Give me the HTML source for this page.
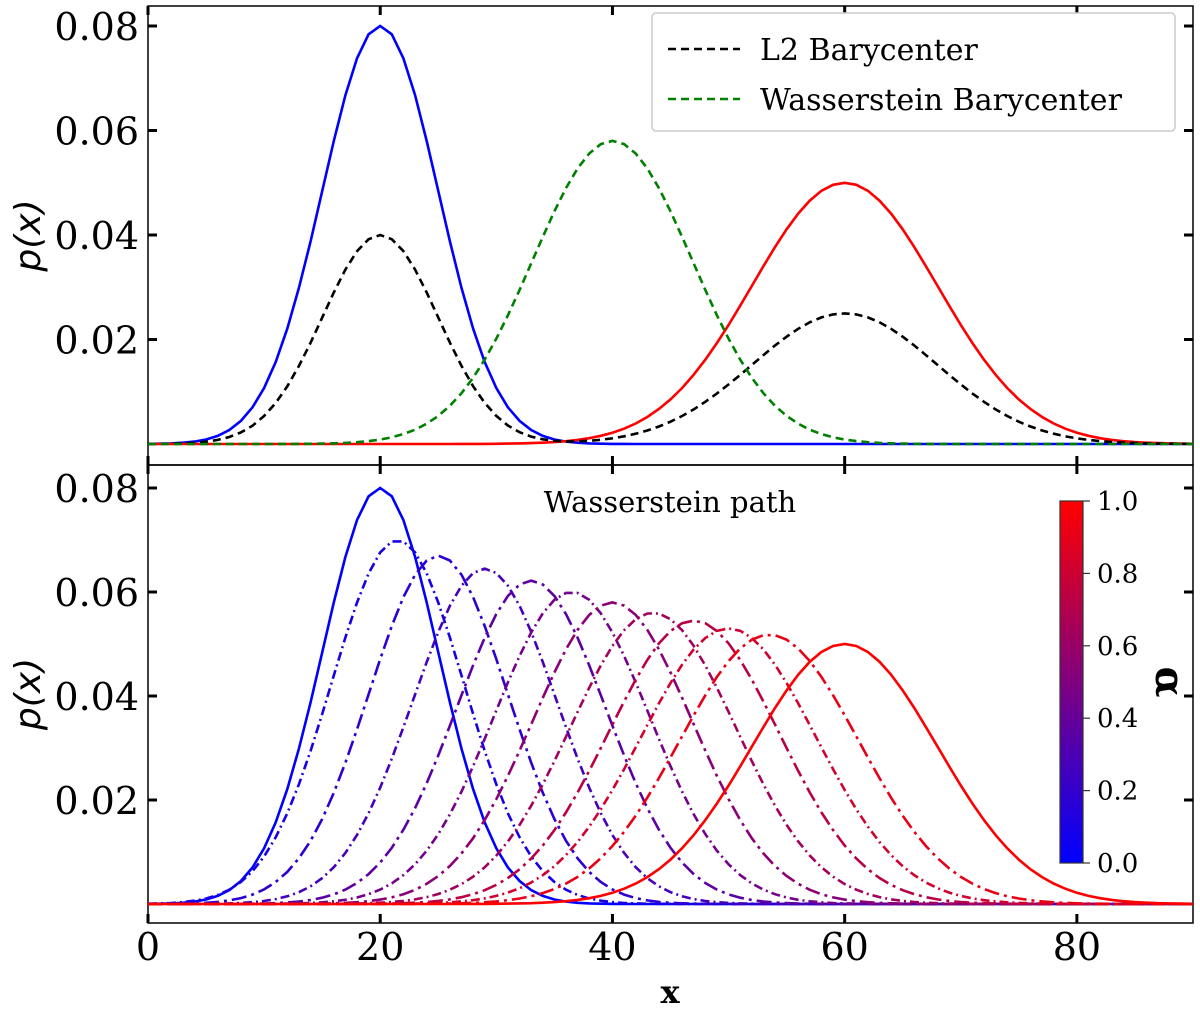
<!DOCTYPE html>
<html><head><meta charset="utf-8"><style>
body{margin:0;background:#fff}
svg text{font-family:"DejaVu Serif","Liberation Serif",serif;fill:#000}
</style></head><body>
<svg id="chart" width="1200" height="1010" xmlns="http://www.w3.org/2000/svg">
<defs><linearGradient id="cb" x1="0" y1="1" x2="0" y2="0"><stop offset="0" stop-color="#0000ff"/><stop offset="1" stop-color="#ff0000"/></linearGradient></defs>
<g id="g"></g>
</svg>
<script>
// data
const xTicks=[0,20,40,60,80];
const yTicks=[0.02,0.04,0.06,0.08];
const topMeans=[20,60];
const topPeaks=[0.08,0.05];
const baryMean=40, baryPeak=0.058;
const pathMeans=[20,21.5,25,29,33,36.5,40,43.5,47,50,53.5,60];
const pathPeaks=[0.08,0.070,0.067,0.0645,0.0622,0.060,0.058,0.056,0.0545,0.053,0.0518,0.05];
const cbTicks=[0.0,0.2,0.4,0.6,0.8,1.0];

const NS='http://www.w3.org/2000/svg';
const G=document.getElementById('g');
function mk(t,a,p){const e=document.createElementNS(NS,t);for(const k in a)e.setAttribute(k,a[k]);(p||G).appendChild(e);return e;}
const X0=148,X1=1193;
const sx=v=>X0+(v/90)*(X1-X0);
const panels=[{top:6,bot:465,y0:444,k:5225},{top:465,bot:923,y0:904,k:5200}];
function gauss(x,m,pk){const s=1/(pk*Math.sqrt(2*Math.PI));return pk*Math.exp(-0.5*((x-m)/s)**2);}
function curve(P,f,col,dash,name){
  let d='';for(let x=0;x<=90;x+=1){const y=P.y0-f(x)*P.k;d+=(x?'L':'M')+sx(x).toFixed(1)+','+y.toFixed(1);}
  const e=mk('path',{d:d,fill:'none',stroke:col,'stroke-width':2.6});
  if(dash)e.setAttribute('stroke-dasharray',dash);
  
  
}
panels.forEach((P,pi)=>{
  const fr=mk('rect',{x:X0,y:P.top,width:X1-X0,height:P.bot-P.top,fill:'none',stroke:'#000','stroke-width':1.5});
  
  
  xTicks.forEach(t=>{mk('line',{x1:sx(t),x2:sx(t),y1:P.bot,y2:P.bot-9,stroke:'#000','stroke-width':3});mk('line',{x1:sx(t),x2:sx(t),y1:P.top,y2:P.top+9,stroke:'#000','stroke-width':3});});
  yTicks.forEach(t=>{const y=P.y0-t*P.k;mk('line',{x1:X0,x2:X0+9,y1:y,y2:y,stroke:'#000','stroke-width':3});mk('line',{x1:X1,x2:X1-9,y1:y,y2:y,stroke:'#000','stroke-width':3});
    const tx=mk('text',{x:X0-9,y:y+14,'text-anchor':'end','font-size':38});tx.textContent=t.toFixed(2);
    
    });
  const yl=mk('text',{transform:`translate(40,${(P.top+P.bot)/2}) rotate(-90)`,'text-anchor':'middle','font-size':36,style:'font-family:"DejaVu Sans",sans-serif;font-style:italic'});
  yl.textContent='p(x)';
  
  
});
const T=panels[0],B=panels[1];
curve(T,x=>gauss(x,topMeans[0],topPeaks[0]),'#0000ff',null,'source-gaussian');
curve(T,x=>gauss(x,topMeans[1],topPeaks[1]),'#ff0000',null,'target-gaussian');
curve(T,x=>0.5*gauss(x,topMeans[0],topPeaks[0])+0.5*gauss(x,topMeans[1],topPeaks[1]),'#000','8,5','l2-barycenter');
curve(T,x=>gauss(x,baryMean,baryPeak),'#008000','8,5','wasserstein-barycenter');
const n=pathMeans.length;
pathMeans.forEach((m,i)=>{
  const t=i/(n-1);const col=`rgb(${Math.round(255*t)},0,${Math.round(255*(1-t))})`;
  const dash=(i==0||i==n-1)?null:(i%2?'9,4,2,4':'15,5,3,5');
  curve(B,x=>gauss(x,m,pathPeaks[i]),col,dash,'path-curve-'+i);
});
xTicks.forEach(t=>{const tx=mk('text',{x:sx(t),y:960,'text-anchor':'middle','font-size':38});tx.textContent=t;
  
  });
const xl=mk('text',{x:670,y:1003,'text-anchor':'middle','font-size':32,'font-weight':'bold'});xl.textContent='x';


// legend
const lg=mk('g',{});


mk('rect',{x:652,y:13,width:523,height:118,rx:4,fill:'#fff',stroke:'#ccc','stroke-width':1.5},lg);
mk('line',{x1:668,x2:740,y1:49,y2:49,stroke:'#000','stroke-width':2.4,'stroke-dasharray':'8,5'},lg);
mk('line',{x1:668,x2:740,y1:99,y2:99,stroke:'#008000','stroke-width':2.4,'stroke-dasharray':'8,5'},lg);
const l1=mk('text',{x:760,y:60,'font-size':30},lg);l1.textContent='L2 Barycenter';
const l2=mk('text',{x:760,y:110,'font-size':30},lg);l2.textContent='Wasserstein Barycenter';
const ti=mk('text',{x:670,y:512,'text-anchor':'middle','font-size':29});ti.textContent='Wasserstein path';


// colorbar
const CT=501,CB=863;
const cb=mk('rect',{x:1060,y:CT,width:23,height:CB-CT,fill:'url(#cb)',stroke:'#333','stroke-width':1.2});


cbTicks.forEach(t=>{const y=CB-t*(CB-CT);mk('line',{x1:1083,x2:1090,y1:y,y2:y,stroke:'#333','stroke-width':1.2});
  const tx=mk('text',{x:1097,y:y+9,'font-size':26});tx.textContent=t.toFixed(1);
  
  });
const al=mk('text',{transform:'translate(1156,682) rotate(90)','text-anchor':'middle','font-size':40,'font-weight':'bold'});al.textContent='α';


</script>
</body></html>
